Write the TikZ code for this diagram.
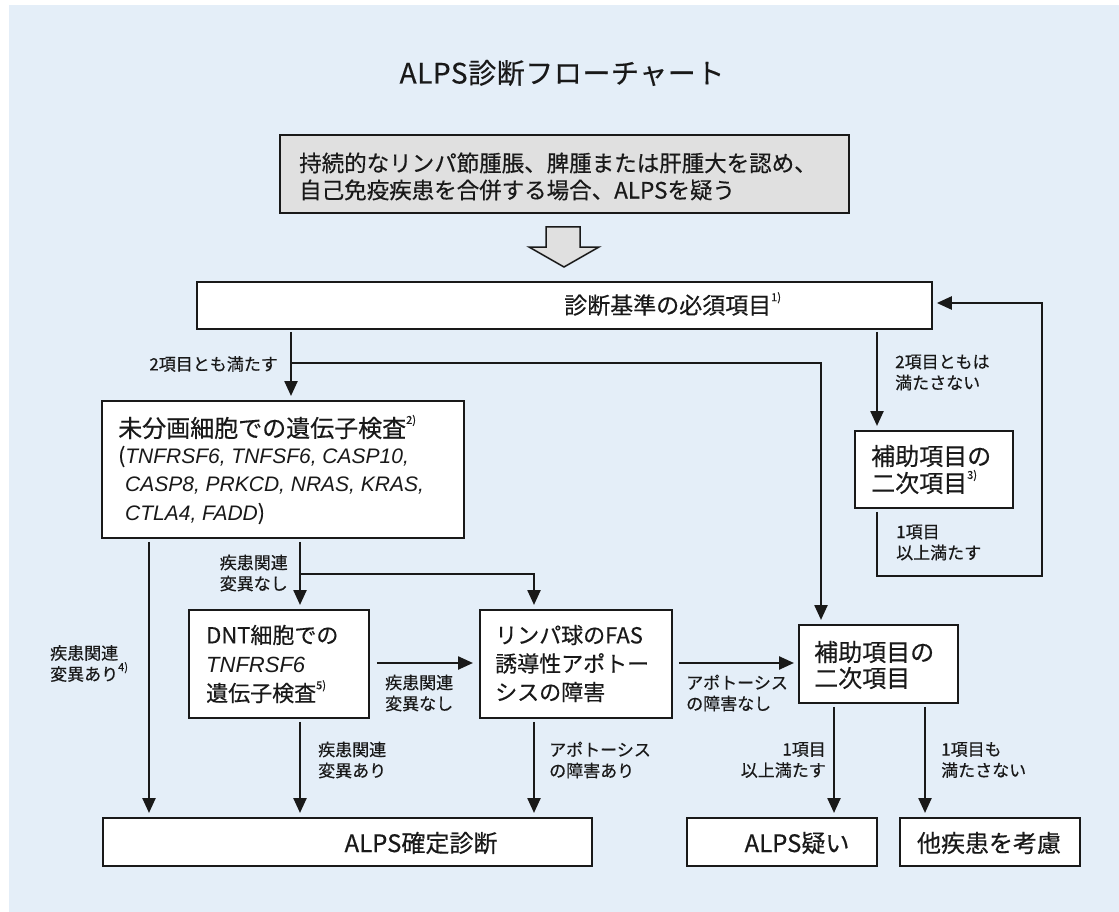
\documentclass[tikz,border=0pt]{standalone}
\usepackage{fontspec}
\setmainfont{Noto Sans CJK JP}[FakeBold=0.4]
\newfontfamily\genefont{Liberation Sans}
\newfontfamily\titlefont{Noto Sans CJK JP}[LetterSpace=2,FakeBold=0.4]
\usetikzlibrary{arrows.meta,shadows}
\definecolor{bgblue}{RGB}{228,238,248}
\definecolor{boxgray}{RGB}{224,224,224}
\definecolor{ink}{RGB}{25,25,25}
\newcommand{\gene}[1]{{\genefont\itshape #1}}
\newcommand{\fnote}[1]{\raisebox{0.55em}{\fontsize{11}{11}\selectfont #1}}
\tikzset{
  flowbox/.style={draw=ink, line width=1.8pt, fill=white, inner sep=0pt, anchor=north west,
    drop shadow={shadow xshift=1.2pt, shadow yshift=-1.2pt, fill=black!60, opacity=1}},
  conn/.style={draw=ink, line width=2.4pt},
  arr/.style={conn, -{Triangle[length=15pt,width=13pt]}, shorten >=4pt},
  lbl/.style={font=\fontsize{17}{21}\selectfont, text=ink, inner sep=0pt, align=left},
  txt/.style={text=ink, inner sep=0pt, align=left, font=\fontsize{22}{28}\selectfont},
}
\begin{document}
\begin{tikzpicture}[x=1pt,y=-1pt]
\useasboundingbox (0,0) rectangle (1119,912);
\fill[white] (0,0) rectangle (1119,912);
\fill[bgblue] (9,5) rectangle (1119,912);

% title
\node[text=ink, inner sep=0pt, font=\fontsize{28}{34}\selectfont\titlefont] (title) at (562,73) {ALPS診断フローチャート};

% boxes
\node[flowbox, fill=boxgray, minimum width=569pt, minimum height=78pt] (start) at (279,134) {};
\node[flowbox, minimum width=735pt, minimum height=47pt] (must) at (196,281) {};
\node[flowbox, minimum width=362pt, minimum height=137pt] (gene) at (101,400) {};
\node[flowbox, minimum width=158pt, minimum height=77pt] (supU) at (854,430) {};
\node[flowbox, minimum width=180pt, minimum height=108pt] (dnt) at (188,609) {};
\node[flowbox, minimum width=192pt, minimum height=108pt] (fas) at (479,609) {};
\node[flowbox, minimum width=159pt, minimum height=78pt] (supL) at (798,624) {};
\node[flowbox, minimum width=489pt, minimum height=48pt] (confirm) at (102,817) {};
\node[flowbox, minimum width=190pt, minimum height=48pt] (suspect) at (686,817) {};
\node[flowbox, minimum width=180pt, minimum height=48pt] (other) at (899,817) {};

% block arrow
\draw[fill=boxgray, draw=ink, line width=1.5pt, line join=miter]
  (546,227) -- (580,227) -- (580,247) -- (599,247) -- (564,267) -- (529,247) -- (546,247) -- cycle;

% box texts
\node[txt, font=\fontsize{22.5}{27}\selectfont, anchor=west] (tstart) at (299,176.5)
  {持続的なリンパ節腫脹、脾腫または肝腫大を認め、\\自己免疫疾患を合併する場合、ALPSを疑う};
\node[txt, font=\fontsize{23}{28}\selectfont, anchor=west] (tmust) at (564,304) {診断基準の必須項目\fnote{1)}};
\node[txt, font=\fontsize{24}{28}\selectfont, anchor=west] (tgene1) at (118,427) {未分画細胞での遺伝子検査\fnote{2)}};
\node[txt, font=\fontsize{21}{28.5}\selectfont, anchor=west] (tgene2) at (118,485)
  {(\gene{TNFRSF6, TNFSF6, CASP10,}\\
   \hspace{7pt}\gene{CASP8, PRKCD, NRAS, KRAS,}\\
   \hspace{7pt}\gene{CTLA4, FADD})};
\node[txt, font=\fontsize{24}{27}\selectfont, anchor=west] (tsupU) at (871,469.5) {補助項目の\\二次項目\fnote{3)}};
\node[txt, font=\fontsize{22}{29}\selectfont, anchor=west] (tdnt) at (206,664)
  {DNT細胞での\\\gene{TNFRSF6}\\遺伝子検査\fnote{5)}};
\node[txt, font=\fontsize{22}{28.5}\selectfont, anchor=west] (tfas) at (495,663.5)
  {リンパ球のFAS\\誘導性アポトー\\シスの障害};
\node[txt, font=\fontsize{24}{26}\selectfont, anchor=west] (tsupL) at (814,665) {補助項目の\\二次項目};
\node[txt, font=\fontsize{24}{28}\selectfont] (tconfirm) at (421,843) {ALPS確定診断};
\node[txt, font=\fontsize{24}{28}\selectfont] (tsuspect) at (797,843) {ALPS疑い};
\node[txt, font=\fontsize{24}{28}\selectfont] (tother) at (989,843) {他疾患を考慮};

% junction coordinates
\coordinate (jA) at (291,363);
\coordinate (jB) at (821,363);
\coordinate (xR) at (877,0);
\coordinate (lp1) at (877,576);
\coordinate (lp2) at (1042,576);
\coordinate (lp3) at (1042,303);
\coordinate (xL) at (149,0);
\coordinate (jC) at (300,574);
\coordinate (jD) at (534,574);
\coordinate (yM) at (0,663);
\coordinate (xS) at (834,0);
\coordinate (xO) at (925,0);

% connectors
\draw[arr, shorten <=2pt] (must.south -| jA) -- (gene.north -| jA);
\draw[arr] (jA) -- (jB) -- (supL.north -| jB);
\draw[arr, shorten <=2pt] (must.south -| xR) -- (supU.north -| xR);
\draw[arr, shorten <=3pt] (supU.south -| lp1) -- (lp1) -- (lp2) -- (lp3) -- (must.east |- lp3);
\draw[arr, shorten <=3pt] (gene.south -| xL) -- (confirm.north -| xL);
\draw[arr, shorten <=3pt] (gene.south -| jC) -- (dnt.north -| jC);
\draw[arr] (jC) -- (jD) -- (fas.north -| jD);
\draw[arr, shorten <=7pt, shorten >=6pt] (dnt.east |- yM) -- (fas.west |- yM);
\draw[arr, shorten <=6pt, shorten >=4pt] (fas.east |- yM) -- (supL.west |- yM);
\draw[arr, shorten <=3pt] (dnt.south -| jC) -- (confirm.north -| jC);
\draw[arr, shorten <=3pt] (fas.south -| jD) -- (confirm.north -| jD);
\draw[arr, shorten <=3pt] (supL.south -| xS) -- (suspect.north -| xS);
\draw[arr, shorten <=3pt] (supL.south -| xO) -- (other.north -| xO);

% connector labels
\node[lbl, anchor=east] (l1) at (278,364) {2項目とも満たす};
\node[lbl, anchor=west] (l2) at (895,372.5) {2項目ともは\\満たさない};
\node[lbl, anchor=west] (l3) at (896,542.5) {1項目\\以上満たす};
\node[lbl, anchor=west] (l4) at (50,663.5) {疾患関連\\変異あり\fnote{4)}};
\node[lbl, anchor=east, align=right] (l5) at (288,573) {疾患関連\\変異なし};
\node[lbl, anchor=west] (l6) at (385,693) {疾患関連\\変異なし};
\node[lbl, anchor=west] (l7) at (686,693) {アポトーシス\\の障害なし};
\node[lbl, anchor=west] (l8) at (318,760) {疾患関連\\変異あり};
\node[lbl, anchor=west] (l9) at (549,760) {アポトーシス\\の障害あり};
\node[lbl, anchor=east, align=right] (l10) at (826,760) {1項目\\以上満たす};
\node[lbl, anchor=west] (l11) at (941,760) {1項目も\\満たさない};
\end{tikzpicture}
\end{document}
